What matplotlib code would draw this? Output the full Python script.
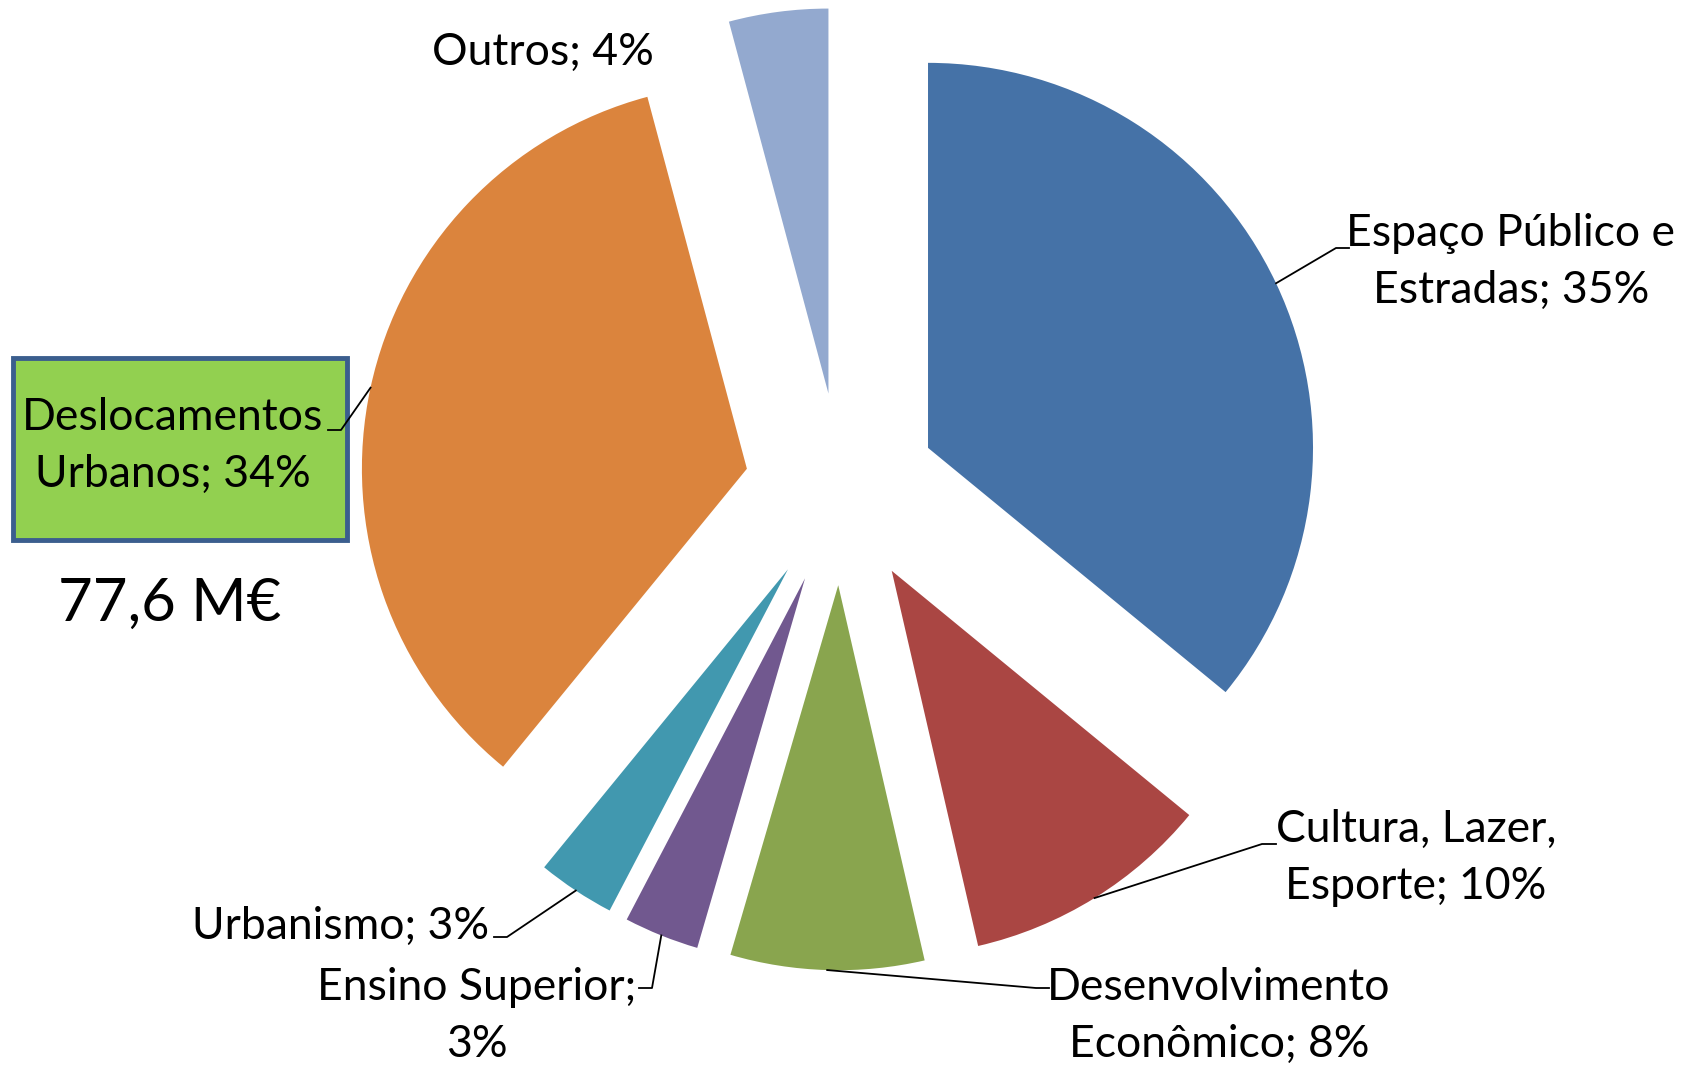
import numpy as np
import matplotlib.pyplot as plt
from matplotlib.patches import FancyBboxPatch

# -----------------------------
# Data (clockwise from 12 o'clock)
# -----------------------------
categories = ["Espaço Público e\nEstradas", "Cultura, Lazer,\nEsporte", "Desenvolvimento\nEconômico",
              "Ensino Superior;\n3%", "Urbanismo", "Deslocamentos\nUrbanos", "Outros"]
values = [35.4, 10.3, 8.0, 3.1, 3.2, 34.4, 4.1]
pct_labels = ["35%", "10%", "8%", "3%", "3%", "34%", "4%"]
colors = ["#4572A7", "#AA4643", "#89A54E", "#71588F", "#4198AF", "#DB843D", "#93A9CF"]
total_text = "77,6 M€"

W, H = 1692, 1066
fig = plt.figure(figsize=(W / 100, H / 100), dpi=100)
ax = fig.add_axes([0, 0, 1, 1])

cx, cy, R = 841, H - 489, 385
explode = 0.25 * R  # matplotlib explode is in data units

wedges, _ = ax.pie(values, colors=colors, startangle=90, counterclock=False,
                   explode=[explode] * len(values), radius=R, center=(cx, cy),
                   wedgeprops=dict(linewidth=0))
ax.set_xlim(0, W)
ax.set_ylim(0, H)
ax.set_aspect("equal")
ax.axis("off")

FONT = "Lato"
FS = 32

def img(x, y):
    return x, H - y

def arc_point(w):
    # outer arc point at the middle angle of the exploded wedge
    th = np.deg2rad((w.theta1 + w.theta2) / 2)
    x0, y0 = w.center
    return x0 + w.r * np.cos(th), y0 + w.r * np.sin(th)

# label text, center (image coords), leader elbow, leader end
label_specs = [
    ("Espaço Público e\nEstradas; 35%", (1511, 262), (1336, 248), (1349, 248)),
    ("Cultura, Lazer,\nEsporte; 10%", (1416, 858), (1262, 844), (1276, 844)),
    ("Desenvolvimento\nEconômico; 8%", (1219, 1016), (1036, 988), (1049, 988)),
    ("Ensino Superior;\n3%", (477, 1016), (652, 988), (639, 988)),
    ("Urbanismo; 3%", (341, 926), (507, 937), (494, 937)),
    ("Deslocamentos\nUrbanos; 34%", (173, 446), (341, 430), (328, 430)),
    ("Outros; 4%", (543, 52), None, None),
]

# green box behind Deslocamentos label
bx0, by0, bx1, by1 = 13, 358, 347, 540
box = FancyBboxPatch((bx0, H - by1), bx1 - bx0, by1 - by0,
                     boxstyle="square,pad=0", facecolor="#92D050",
                     edgecolor="#3B5E8E", linewidth=3.5, zorder=3)
ax.add_patch(box)

for w, (txt, pos, elbow, end) in zip(wedges, label_specs):
    x, y = img(*pos)
    ax.text(x, y, txt, ha="center", va="center", fontsize=FS, family=FONT,
            linespacing=1.46, zorder=5)
    if elbow is not None:
        sx, sy = arc_point(w)
        ex, ey = img(*elbow)
        tx, ty = img(*end)
        ax.plot([sx, ex, tx], [sy, ey, ty], color="black", linewidth=1.3, zorder=4)

tx, ty = img(170, 604)
ax.text(tx, ty, total_text, ha="center", va="center", fontsize=43, family=FONT)

plt.savefig("out.png", dpi=100)
